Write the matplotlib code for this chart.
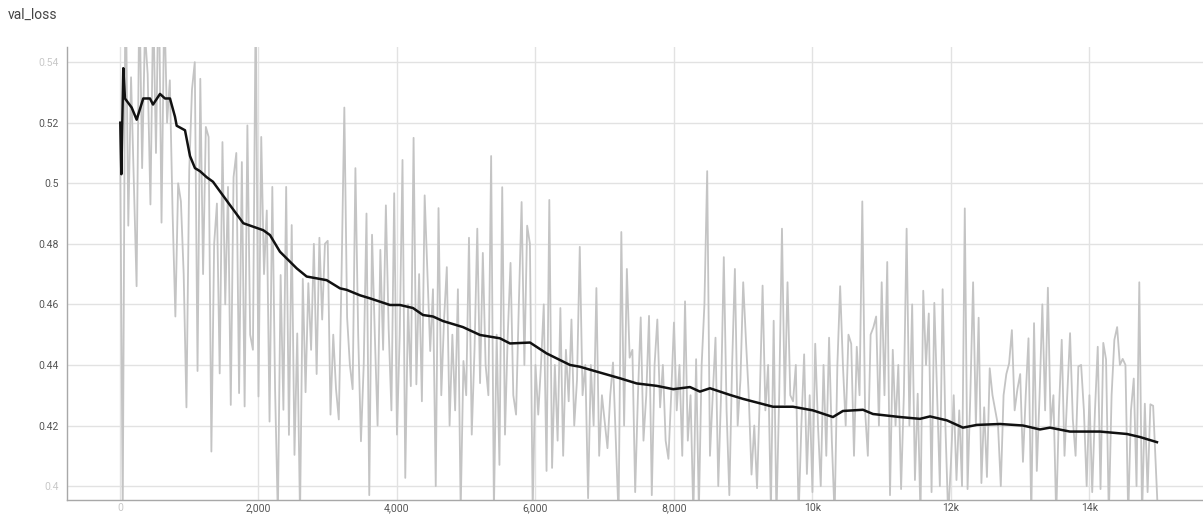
import numpy as np
import matplotlib
matplotlib.use("Agg")
import matplotlib.pyplot as plt

plt.rcParams['font.family'] = ['Roboto', 'DejaVu Sans']

# raw val_loss, one value every 40 steps
raw_step = 40
raw_loss = [
    0.520, 0.392, 0.575, 0.486, 0.535, 0.500, 0.466, 0.565, 0.505, 0.550, 0.536, 0.493, 0.560,
    0.510, 0.570, 0.487, 0.560, 0.520, 0.534, 0.490, 0.456, 0.500, 0.494, 0.470, 0.426,
    0.504, 0.531, 0.540, 0.438, 0.5345, 0.470, 0.5186, 0.5153, 0.4114, 0.480, 0.4933, 0.4372, 0.5136,
    0.460, 0.4988, 0.4268, 0.502, 0.510, 0.4307, 0.507, 0.4263, 0.5191, 0.450, 0.445, 0.560,
    0.4296, 0.5153, 0.470, 0.491, 0.4213, 0.4988, 0.4318, 0.390, 0.4697, 0.4252, 0.4988, 0.4169, 0.4862,
    0.4103, 0.4504, 0.390, 0.4684, 0.431, 0.467, 0.445, 0.480, 0.437, 0.482, 0.455, 0.480,
    0.481, 0.4236, 0.450, 0.432, 0.422, 0.470, 0.525, 0.4557, 0.440, 0.432, 0.505, 0.450, 0.4148,
    0.440, 0.490, 0.397, 0.483, 0.450, 0.420, 0.478, 0.445, 0.4927, 0.452, 0.425, 0.4967,
    0.417, 0.450, 0.5077, 0.4027, 0.460, 0.433, 0.515, 0.4336, 0.470, 0.428, 0.496, 0.470, 0.4446,
    0.465, 0.400, 0.4918, 0.430, 0.455, 0.4723, 0.420, 0.450, 0.425, 0.465, 0.392, 0.4413,
    0.430, 0.482, 0.417, 0.445, 0.485, 0.434, 0.477, 0.440, 0.430, 0.509, 0.392, 0.450, 0.407,
    0.4987, 0.417, 0.450, 0.4737, 0.430, 0.4236, 0.460, 0.4938, 0.440, 0.486, 0.480, 0.392,
    0.440, 0.4236, 0.440, 0.460, 0.405, 0.4945, 0.406, 0.440, 0.415, 0.4588, 0.410, 0.445, 0.428,
    0.455, 0.420, 0.435, 0.479, 0.430, 0.440, 0.396, 0.440, 0.420, 0.4654, 0.410, 0.430,
    0.4214, 0.4125, 0.430, 0.4408, 0.415, 0.390, 0.4839, 0.420, 0.4717, 0.4424, 0.445, 0.398, 0.430,
    0.4557, 0.415, 0.430, 0.4562, 0.397, 0.440, 0.455, 0.426, 0.440, 0.415, 0.409, 0.430,
    0.454, 0.425, 0.440, 0.410, 0.461, 0.415, 0.430, 0.390, 0.4419, 0.392, 0.440, 0.460, 0.504,
    0.410, 0.430, 0.449, 0.400, 0.430, 0.4756, 0.425, 0.397, 0.440, 0.4717, 0.420, 0.435,
    0.4673, 0.448, 0.430, 0.4038, 0.420, 0.3993, 0.430, 0.4662, 0.425, 0.440, 0.392, 0.4546, 0.390,
    0.430, 0.485, 0.427, 0.4673, 0.430, 0.428, 0.440, 0.390, 0.420, 0.4435, 0.404, 0.430,
    0.398, 0.447, 0.420, 0.400, 0.440, 0.410, 0.449, 0.415, 0.390, 0.440, 0.466, 0.440, 0.420,
    0.450, 0.447, 0.410, 0.446, 0.430, 0.494, 0.425, 0.410, 0.450, 0.4524, 0.456, 0.420,
    0.4673, 0.430, 0.474, 0.397, 0.445, 0.420, 0.440, 0.399, 0.430, 0.485, 0.420, 0.460, 0.402,
    0.4305, 0.390, 0.4645, 0.440, 0.457, 0.398, 0.4605, 0.430, 0.400, 0.465, 0.420, 0.390,
    0.4077, 0.430, 0.402, 0.425, 0.400, 0.4917, 0.399, 0.430, 0.4673, 0.420, 0.4556, 0.401, 0.426,
    0.403, 0.4389, 0.430, 0.425, 0.420, 0.400, 0.430, 0.437, 0.4405, 0.4515, 0.425, 0.432,
    0.437, 0.408, 0.430, 0.4488, 0.390, 0.4538, 0.405, 0.430, 0.460, 0.425, 0.4655, 0.420, 0.430,
    0.390, 0.425, 0.4483, 0.410, 0.430, 0.4505, 0.422, 0.410, 0.4395, 0.440, 0.425, 0.400,
    0.430, 0.398, 0.425, 0.446, 0.399, 0.4473, 0.4418, 0.390, 0.430, 0.4483, 0.4525, 0.440, 0.442,
    0.440, 0.390, 0.425, 0.4355, 0.400, 0.4673, 0.390, 0.4272, 0.398, 0.427, 0.4265, 0.4055,
    0.385,
]

# smoothed curve (step, value)
smooth_steps = [
    5, 20, 48, 72, 169, 241, 336, 433, 477, 578, 650, 722, 794, 819, 939, 1011, 1083, 1155,
    1252, 1343, 1588, 1781, 2069, 2166, 2310, 2552, 2696, 2985, 3177, 3274, 3466, 3610, 3899,
    4043, 4231, 4375, 4520, 4664, 4809, 4953, 5199, 5487, 5632, 5921, 6162, 6498, 6643, 6884,
    7220, 7461, 7750, 7990, 8231, 8375, 8520, 8809, 8996, 9430, 9718, 10007, 10296, 10440,
    10729, 10874, 11264, 11552, 11697, 11942, 12173, 12375, 12708, 13040, 13285, 13430, 13718,
    14152, 14542, 14729, 14975,
]
smooth_loss = [
    0.520, 0.503, 0.538, 0.528, 0.525, 0.521, 0.528, 0.528, 0.526, 0.5295, 0.528, 0.528, 0.522,
    0.519, 0.5175, 0.509, 0.505, 0.504, 0.502, 0.5005, 0.4928, 0.4868, 0.4845, 0.4829, 0.4774,
    0.4719, 0.4692, 0.468, 0.4653, 0.4648, 0.463, 0.462, 0.4598, 0.4598, 0.4588, 0.4565, 0.456,
    0.4545, 0.4535, 0.4525, 0.4499, 0.4488, 0.4471, 0.4474, 0.4438, 0.440, 0.4394, 0.4378,
    0.4356, 0.4339, 0.4331, 0.432, 0.4327, 0.4312, 0.4323, 0.4301, 0.4288, 0.4262, 0.4262,
    0.425, 0.4228, 0.4248, 0.4252, 0.4238, 0.4228, 0.4222, 0.423, 0.4217, 0.4193, 0.4202,
    0.4205, 0.420, 0.4187, 0.4193, 0.418, 0.418, 0.4172, 0.4162, 0.4145,
]

y_ticks = [0.40, 0.42, 0.44, 0.46, 0.48, 0.50, 0.52, 0.54]
y_labels = ["0.4", "0.42", "0.44", "0.46", "0.48", "0.5", "0.52", "0.54"]
x_ticks = [0, 2000, 4000, 6000, 8000, 10000, 12000, 14000]
x_labels = ["0", "2,000", "4,000", "6,000", "8,000", "10k", "12k", "14k"]

raw_steps = np.arange(len(raw_loss)) * raw_step

fig = plt.figure(figsize=(12.03, 5.18), dpi=100)
ax = fig.add_axes([67 / 1203, 18 / 518, 1 - 67 / 1203, 453 / 518])

ax.plot(raw_steps, raw_loss, color="#c4c4c4", lw=1.3, zorder=2)
ax.plot(smooth_steps, smooth_loss, color="#111111", lw=1.8, zorder=3)

ax.set_xlim(-765, 15640)
ax.set_ylim(0.3954, 0.5450)
ax.set_xticks(x_ticks)
ax.set_xticklabels(x_labels)
ax.set_yticks(y_ticks)
ax.set_yticklabels(y_labels)
ax.grid(True, color="#e2e2e2", lw=1.0, zorder=0)
ax.set_axisbelow(True)
ax.tick_params(length=0, labelsize=7.5, labelcolor="#555555")
ax.tick_params(axis="y", pad=6)
ax.tick_params(axis="x", pad=2)
for lab in (ax.get_yticklabels()[0], ax.get_yticklabels()[-1], ax.get_xticklabels()[0]):
    lab.set_color("#c8c8c8")

for side in ("top", "right"):
    ax.spines[side].set_visible(False)
for side in ("left", "bottom"):
    ax.spines[side].set_color("#a8a8a8")
    ax.spines[side].set_linewidth(1.0)

fig.text(8 / 1203, 1 - 15 / 518, "val_loss", fontsize=10, color="#444444", va="center", ha="left")

fig.savefig("out.png", dpi=100, facecolor="white")
